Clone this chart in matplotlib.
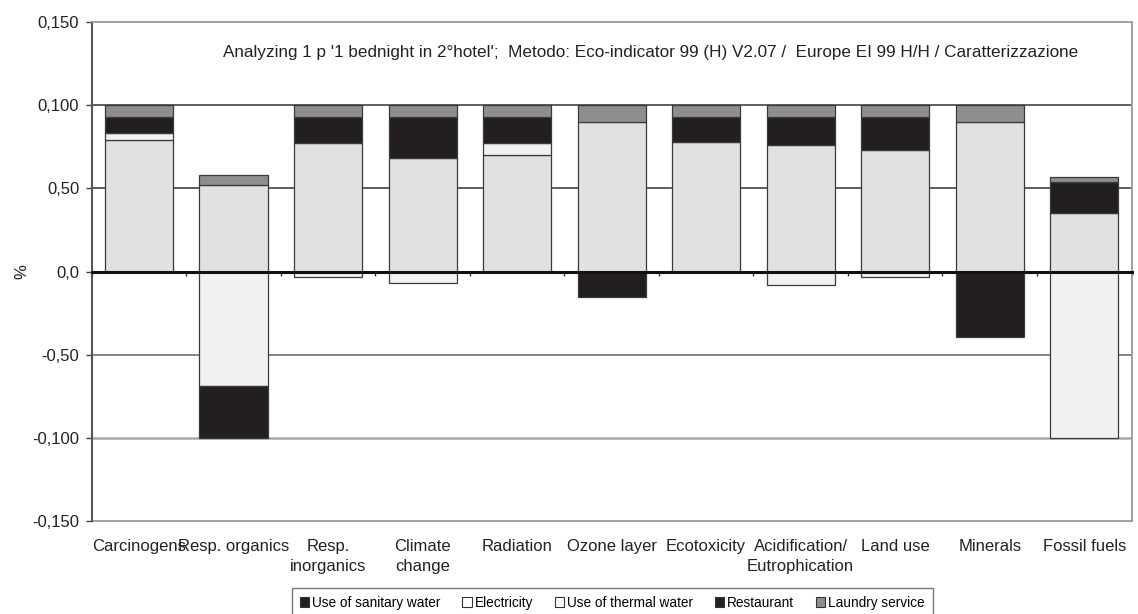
import matplotlib
matplotlib.use("Agg")
import matplotlib.pyplot as plt
import numpy as np
from matplotlib.patches import Patch

plt.rcParams['font.family'] = ['Liberation Sans', 'DejaVu Sans']

categories = ["Carcinogens", "Resp. organics", "Resp.\ninorganics", "Climate\nchange",
              "Radiation", "Ozone layer", "Ecotoxicity", "Acidification/\nEutrophication",
              "Land use", "Minerals", "Fossil fuels"]

# contributions per impact category (% of total)
sanitary_water = [0, 0, 0, 0, 0, 0, 0, 0, 0, 0, 0]
electricity    = [79, 52, 77, 68.5, 70, 90, 78, 76, 73, 90, 35.5]
thermal_water  = [4.5, -69, -3.5, -7, 7, 0, 0, -8, -3.5, 0, -100]
restaurant     = [9.5, -31, 16, 24.5, 16, -15.5, 15, 17, 20, -39.5, 18.5]
laundry        = [7, 6, 7, 7, 7, 10, 7, 7, 7, 10, 3]

series_names = ["Use of sanitary water", "Electricity", "Use of thermal water",
                "Restaurant", "Laundry service"]
series = [sanitary_water, electricity, thermal_water, restaurant, laundry]
colors = ["#231f20", "#e1e1e3", "#f1f1f1", "#231f20", "#8e8e90"]
legend_colors = ["#231f20", "#ffffff", "#ffffff", "#231f20", "#8e8e90"]

ytick_vals = [150, 100, 50, 0, -50, -100, -150]
ytick_labels = ["0,150", "0,100", "0,50", "0,0", "-0,50", "-0,100", "-0,150"]

title = ("Analyzing 1 p '1 bednight in 2\u00b0hotel';  Metodo: Eco-indicator 99 (H) V2.07 /  "
         "Europe EI 99 H/H / Caratterizzazione")

fig = plt.figure(figsize=(11.38, 6.14), dpi=100)
ax = fig.add_axes([0.0806, 0.1515, 0.9137, 0.8125])

x = np.arange(len(categories))
pos_base = np.zeros(len(categories))
neg_base = np.zeros(len(categories))
for vals, col in zip(series, colors):
    v = np.array(vals, dtype=float)
    pos = np.where(v > 0, v, 0)
    neg = np.where(v < 0, v, 0)
    mp = pos > 0
    mn = neg < 0
    ax.bar(x[mp], pos[mp], bottom=pos_base[mp], width=0.72, color=col,
           edgecolor="#3a3a3a", linewidth=0.9, zorder=3)
    ax.bar(x[mn], neg[mn], bottom=neg_base[mn], width=0.72, color=col,
           edgecolor="#3a3a3a", linewidth=0.9, zorder=3)
    pos_base += pos
    neg_base += neg

ax.set_xlim(-0.5, len(categories) - 0.5)
ax.set_ylim(-150, 150)

# horizontal gridlines
for yv, c, lw in [(100, "#333333", 1.1), (50, "#333333", 1.1),
                  (-50, "#7a7a7a", 1.3), (-100, "#a8a8a8", 1.8)]:
    ax.axhline(yv, color=c, linewidth=lw, zorder=1)

# category axis crossing at zero with boundary ticks
ax.spines['bottom'].set_position(('data', 0))
ax.spines['bottom'].set_linewidth(2.2)
ax.spines['bottom'].set_color("#111111")
ax.spines['bottom'].set_zorder(4)
ax.set_xticks([])
ax.set_xticks(np.arange(len(categories) + 1) - 0.5, minor=True)
ax.tick_params(axis='x', which='minor', direction='out', length=3, width=1, color="#333333")

for s in ['top', 'right']:
    ax.spines[s].set_color("#9a9a9a")
    ax.spines[s].set_linewidth(1.3)
ax.spines['left'].set_color("#555555")
ax.spines['left'].set_linewidth(1.5)

ax.set_yticks(ytick_vals)
ax.set_yticklabels(ytick_labels, fontsize=12, color="#222222")
ax.tick_params(axis='y', direction='out', length=4, width=1, color="#444444", pad=5)
ax.set_ylabel("%", fontsize=12, color="#222222", labelpad=2)

# category labels along the bottom of the plot area
sec = ax.secondary_xaxis(0)
sec.set_xticks(x)
sec.set_xticklabels(categories, fontsize=12, color="#222222", linespacing=1.45)
sec.tick_params(axis='x', length=0, pad=13)
sec.spines['bottom'].set_color("#9a9a9a")
sec.spines['bottom'].set_linewidth(1.3)

ax.text(0.126, 0.94, title, transform=ax.transAxes, fontsize=12.3, color="#222222",
        ha='left', va='center')

handles = [Patch(facecolor=c, edgecolor="#333333", linewidth=0.8) for c in legend_colors]
leg = fig.legend(handles, series_names, loc='upper center', bbox_to_anchor=(0.538, 0.043),
                 ncol=5, fontsize=9.8, frameon=True, fancybox=False, edgecolor="#555555",
                 handlelength=0.7, handleheight=0.7, handletextpad=0.2, columnspacing=1.6,
                 borderpad=0.6, borderaxespad=0)
leg.get_frame().set_linewidth(1.0)

fig.savefig("out.png", dpi=100)
